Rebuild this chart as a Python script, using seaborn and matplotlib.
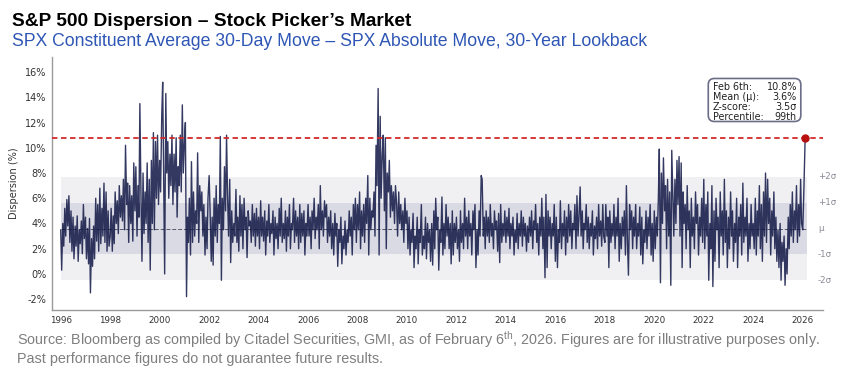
import numpy as np
import pandas as pd
import matplotlib
matplotlib.use("Agg")
import matplotlib.pyplot as plt
import matplotlib.dates as mdates
from matplotlib.patches import FancyBboxPatch
import seaborn as sns

# semi-monthly readings of dispersion (%)
disp_1996_2000 = [
    3.5, 0.3, 4.0, 2.2, 5.2, 3.0, 5.9, 3.8, 6.2, 2.5, 5.0, 1.8, 4.5, 1.2, 3.8, 2.2, 4.6, 1.0, 3.5, 2.4, 4.2, 1.6, 5.5, 2.8,
    4.5, 1.2, 3.6, 0.8, 4.4, -1.5, 2.8, 0.6, 3.8, 1.2, 6.0, 2.6, 5.5, 1.8, 6.8, 2.4, 5.2, 3.0, 7.2, 2.5, 6.5, 1.8, 5.0, 2.2,
    3.0, 5.2, 1.8, 4.6, 2.4, 6.5, 4.0, 5.8, 3.2, 7.0, 4.5, 6.2, 4.2, 7.5, 3.5, 10.2, 5.5, 7.2, 2.5, 7.0, 4.0, 6.2, 2.6, 8.8,
    5.0, 8.5, 3.0, 7.0, 4.5, 13.5, 6.0, 1.0, 8.0, 3.2, 6.5, 4.0, 8.8, 2.5, 7.5, 0.3, 9.0, 4.0, 11.2, 3.5, 10.5, 6.0, 11.0, 5.5,
    9.0, 6.5, 12.5, 15.2, 7.0, 0.0, 14.3, 8.0, 10.5, 6.0, 9.5, 7.0, 11.0, 5.5, 9.5, 6.5, 10.8, 4.5, 8.5, 7.0, 11.0, 6.5, 13.4, 8.0,
]
disp_2001_2005 = [
    10.5, 12.0, -1.8, 4.5, 2.5, 6.0, 1.5, 8.9, 2.5, 6.5, 3.0, 5.0, 4.0, 9.6, 2.5, 7.0, 5.0, 6.5, 3.0, 5.5, 1.5, 4.5, 2.0, 6.0,
    7.8, 5.0, 1.0, 4.5, 0.7, 6.0, 3.0, 7.0, 2.5, 5.5, 4.0, 10.9, -0.5, 6.0, 3.5, 8.5, 5.0, 11.0, 6.0, 3.0, 7.5, 0.9, 5.0, 2.5,
    4.0, 3.0, 6.7, 2.5, 4.5, 1.8, 6.2, 3.0, 5.5, 2.0, 6.0, 3.5, 4.5, 1.3, 5.0, 3.8, 4.2, 2.5, 5.5, 3.0, 4.8, 2.2, 5.2, 3.0,
    4.5, 2.0, 5.8, 3.0, 4.5, 2.6, 5.0, 1.5, 4.2, 3.0, 5.5, 2.5, 4.0, 3.2, 5.0, 1.5, 4.5, 2.8, 4.0, 2.0, 5.2, 3.0, 6.0, 2.5,
    4.0, 2.8, 5.0, 1.8, 4.5, 3.0, 5.5, 2.0, 4.0, 3.5, 6.0, 2.5, 5.0, 3.0, 4.5, 2.0, 5.5, 2.5, 4.8, 3.0, 5.0, 1.5, 4.0, 3.0,
]
disp_2006_2010 = [
    5.5, 3.0, 4.5, 2.0, 5.0, 3.5, 6.0, 2.8, 4.5, 3.5, 5.5, 2.0, 7.0, 3.5, 5.0, 3.0, 5.8, 4.5, 5.5, 2.5, 4.5, 3.0, 5.0, 2.0,
    4.0, 1.5, 4.8, 3.0, 4.0, 0.6, 3.5, 2.5, 4.5, 0.8, 3.0, 2.0, 4.2, 1.5, 3.5, 2.5, 5.0, 3.0, 4.5, 1.5, 5.5, 3.5, 6.0, 2.5,
    5.5, 3.5, 6.5, 2.0, 5.0, 3.0, 5.5, 2.5, 6.0, 4.0, 7.8, 1.5, 6.0, 3.5, 5.0, 4.5, 6.5, 3.0, 10.2, 7.0, 14.7, 1.5, 12.5, 6.0,
    9.5, 11.0, 5.0, 10.8, 2.0, 8.0, 6.5, 9.0, 4.5, 7.0, 5.0, 6.5, 4.0, 7.0, 5.5, 3.0, 6.5, 4.0, 5.5, 3.5, 5.0, 2.5, 6.0, 4.0,
    5.0, 2.0, 4.5, 1.5, 3.5, 2.5, 4.8, 0.5, 3.0, 2.0, 4.5, 0.8, 3.5, 2.5, 5.5, 1.5, 3.0, 2.0, 4.5, 1.2, 4.0, 2.5, 3.5, 1.0,
]
disp_2011_2015 = [
    4.0, 0.7, 5.0, 2.0, 6.0, 3.5, 4.5, 0.3, 3.5, 2.5, 6.1, 1.5, 4.0, 2.0, 5.5, 3.0, 4.5, 2.0, 4.0, 0.8, 5.0, 1.5, 4.0, 2.5,
    4.5, 2.0, 3.5, 1.0, 5.0, 2.5, 4.0, 2.0, 6.0, 3.0, 4.5, 2.0, 5.0, 3.0, 4.0, 1.5, 5.0, 3.5, 5.5, 0.5, 3.5, 1.5, 5.0, 3.0,
    7.8, 7.5, 3.0, 4.5, 2.0, 5.0, 3.0, 4.5, 2.5, 5.5, 3.0, 4.0, 2.0, 5.0, 3.5, 4.2, 1.8, 4.8, 0.9, 5.5, 2.5, 4.0, 3.0, 5.0,
    2.5, 4.5, 3.0, 5.2, 2.0, 4.0, 3.0, 4.5, 1.5, 3.5, 2.5, 4.8, 2.0, 4.0, 3.0, 5.0, 2.2, 4.5, 3.0, 4.0, 1.8, 3.8, 2.5, 4.5,
    3.0, 5.0, 2.0, 4.2, 3.5, 5.5, 2.5, 4.0, 1.5, 4.5, 3.0, 6.0, 2.0, 4.5, -0.3, 6.3, 0.5, 5.0, 3.0, 4.5, 2.0, 4.0, 3.0, 5.5,
]
disp_2016_2020 = [
    1.0, 4.5, 0.5, 3.5, 2.5, 5.8, 2.0, 4.0, 3.0, 5.0, 1.5, 4.5, 2.5, 5.5, 3.0, 5.0, 2.0, 4.0, 3.5, 5.5, 2.0, 6.2, 3.0, 4.5,
    6.9, 3.0, 5.0, 2.0, 4.0, 3.5, 5.5, 2.5, 4.5, 2.0, 4.0, 3.0, 5.0, 1.5, 3.8, 2.8, 4.5, 2.0, 5.5, 3.0, 4.2, 2.2, 5.5, 3.0,
    2.5, 5.5, 3.0, 4.5, 0.5, 5.0, 2.5, 4.0, 3.0, 5.5, 2.0, 4.5, 3.0, 6.0, 1.0, 4.0, 2.0, 4.5, 3.0, 5.0, 1.5, 7.0, 2.5, -0.1,
    5.5, 3.5, 5.0, 2.0, 4.5, 3.0, 5.5, 2.0, 4.0, 3.0, 5.3, 1.5, 4.5, 0.8, 3.5, 2.5, 5.0, 2.0, 4.5, 3.0, 5.5, 1.5, 4.0, 1.0,
    5.0, 2.0, 4.5, 3.0, 6.0, 9.9, -0.7, 8.0, 4.0, 9.2, 5.0, 7.0, 2.0, 7.5, 3.0, 6.5, -0.9, 9.8, 6.0, 3.0, 7.5, 4.0, 9.0, 5.5,
]
disp_2021_2026 = [
    9.3, 3.0, 8.8, 0.5, 6.5, 4.0, 5.5, 2.0, 7.0, 3.5, 5.0, 0.5, 6.0, 3.0, 4.5, 2.0, 6.5, 4.0, 5.5, 1.5, 4.5, 3.0, 6.0, 2.5,
    7.5, 2.0, 5.5, 3.0, 6.5, -0.5, 4.0, 2.0, 7.0, -1.0, 5.0, 1.0, 6.0, 3.5, 4.5, 0.5, 6.5, 3.0, 5.0, 1.5, 7.5, 2.5, 5.0, 0.5,
    4.5, 2.0, 6.5, 3.0, 5.0, 1.0, 4.0, 2.5, 6.0, 0.5, 4.5, 3.0, 5.5, 1.5, 7.2, 2.5, 4.5, 3.0, 6.0, 1.0, 4.0, 2.0, 5.5, 3.0,
    4.0, 2.0, 6.0, 1.5, 5.0, 3.0, 7.0, 2.0, 5.5, 1.0, 6.5, 3.0, 8.0, 2.5, 7.5, 4.0, 6.0, 1.5, 5.0, 3.0, 6.5, 2.0, 4.5, 1.0,
    3.5, 0.5, 4.0, -0.5, 2.5, 1.0, 3.0, -0.9, 2.0, 0.0, 4.5, 2.0, 5.5, 3.0, 6.5, 2.5, 5.0, 3.5, 7.0, 2.5, 5.5, 3.0, 7.5, 4.0,
    3.5, 6.0, 10.8,
]
last_date = "2026-02-06"
mean_val = 3.6
z_score = 3.5
box_labels = ["Feb 6th:", "Mean (\u03bc):", "Z-score:", "Percentile:"]
box_values = ["10.8%", "3.6%", "3.5\u03c3", "99th"]
band_labels = ["+2\u03c3", "+1\u03c3", "\u03bc", "-1\u03c3", "-2\u03c3"]
band_levels = [2, 1, 0, -1, -2]

values = (disp_1996_2000 + disp_2001_2005 + disp_2006_2010
          + disp_2011_2015 + disp_2016_2020 + disp_2021_2026)
dates = pd.date_range("1996-01-01", periods=len(values) - 1, freq="SMS")
dates = dates.append(pd.DatetimeIndex([pd.Timestamp(last_date)]))
df = pd.DataFrame({"date": dates, "disp": values})

latest = df["disp"].iloc[-1]
sigma = (latest - mean_val) / z_score

sns.set_style("white")
plt.rcParams["font.family"] = ["DejaVu Sans"]

fig = plt.figure(figsize=(8.41, 3.76), dpi=100)
ax = fig.add_axes([0.0618, 0.1755, 0.917, 0.673])

band_x = [df["date"].iloc[0], df["date"].iloc[-1] + pd.Timedelta(days=30)]
ax.fill_between(band_x, mean_val - 2 * sigma, mean_val + 2 * sigma, color="#f0f0f3", lw=0, zorder=0)
ax.fill_between(band_x, mean_val - sigma, mean_val + sigma, color="#d9dae3", lw=0, zorder=0)
ax.plot(band_x, [mean_val, mean_val], color="#55586e", lw=0.7, ls=(0, (4, 2)), zorder=1)

sns.lineplot(data=df, x="date", y="disp", ax=ax, color="#101645", lw=1.0,
             alpha=0.85, estimator=None, sort=False, zorder=2)

ax.axhline(latest, color="#d42a2a", lw=1.3, ls=(0, (3, 2)), zorder=3)
ax.plot(df["date"].iloc[-1], latest, "o", color="#b80f0f", ms=5, zorder=4)

for lab, k in zip(band_labels, band_levels):
    ax.text(0.993, mean_val + k * sigma, lab, transform=ax.get_yaxis_transform(),
            fontsize=6.2, color="#8a8a96", va="center", ha="left", clip_on=False)

# info box
box = FancyBboxPatch((0.851, 0.745), 0.12, 0.17, transform=ax.transAxes,
                     boxstyle="round,pad=0,rounding_size=0.008", mutation_aspect=3.05,
                     fc="white", ec="#6a6e88", lw=1.2, zorder=5)
ax.add_patch(box)
ax.text(0.857, 0.902, "\n".join(box_labels), transform=ax.transAxes, fontsize=6.9,
        color="#222222", va="top", ha="left", linespacing=1.0, zorder=6)
ax.text(0.966, 0.902, "\n".join(box_values), transform=ax.transAxes, fontsize=6.9,
        color="#222222", va="top", ha="right", linespacing=1.0, zorder=6)

ax.set_xlim(pd.Timestamp("1995-08-25"), pd.Timestamp("2026-10-30"))
ax.set_ylim(-2.86, 17.2)
ax.set_yticks(np.arange(-2, 17, 2))
ax.set_yticklabels([f"{v}%" for v in range(-2, 17, 2)])
ax.xaxis.set_major_locator(mdates.YearLocator(2))
ax.xaxis.set_major_formatter(mdates.DateFormatter("%Y"))
ax.tick_params(axis="y", labelsize=7, colors="#333333", length=0, pad=4)
ax.tick_params(axis="x", labelsize=6.3, colors="#333333", length=0, pad=4)
ax.set_xlabel("")
ax.set_ylabel("Dispersion (%)", fontsize=7, color="#333333", labelpad=4)
for s in ["top", "right"]:
    ax.spines[s].set_visible(False)
for s in ["left", "bottom"]:
    ax.spines[s].set_color("#9a9a9a")
    ax.spines[s].set_linewidth(1.0)

fig.text(0.014, 1 - 26.5 / 376, "S&P 500 Dispersion \u2013 Stock Picker\u2019s Market",
         fontsize=13.8, fontweight="bold", color="black", family=["Liberation Sans", "DejaVu Sans"],
         va="baseline", ha="left")
fig.text(0.014, 1 - 46.5 / 376,
         "SPX Constituent Average 30-Day Move \u2013 SPX Absolute Move, 30-Year Lookback",
         fontsize=12.7, color="#2e56b4", family=["Liberation Sans", "DejaVu Sans"],
         va="baseline", ha="left")
src_font = ["Liberation Sans", "DejaVu Sans"]
fig.text(0.02, 1 - 345 / 376,
         "Source: Bloomberg as compiled by Citadel Securities, GMI, as of February 6$^{\\mathregular{th}}$, 2026. "
         "Figures are for illustrative purposes only.",
         fontsize=10.4, color="#7f7f7f", family=src_font, va="baseline", ha="left")
fig.text(0.02, 1 - 363 / 376, "Past performance figures do not guarantee future results.",
         fontsize=10.4, color="#7f7f7f", family=src_font, va="baseline", ha="left")

fig.savefig("out.png", dpi=100)
